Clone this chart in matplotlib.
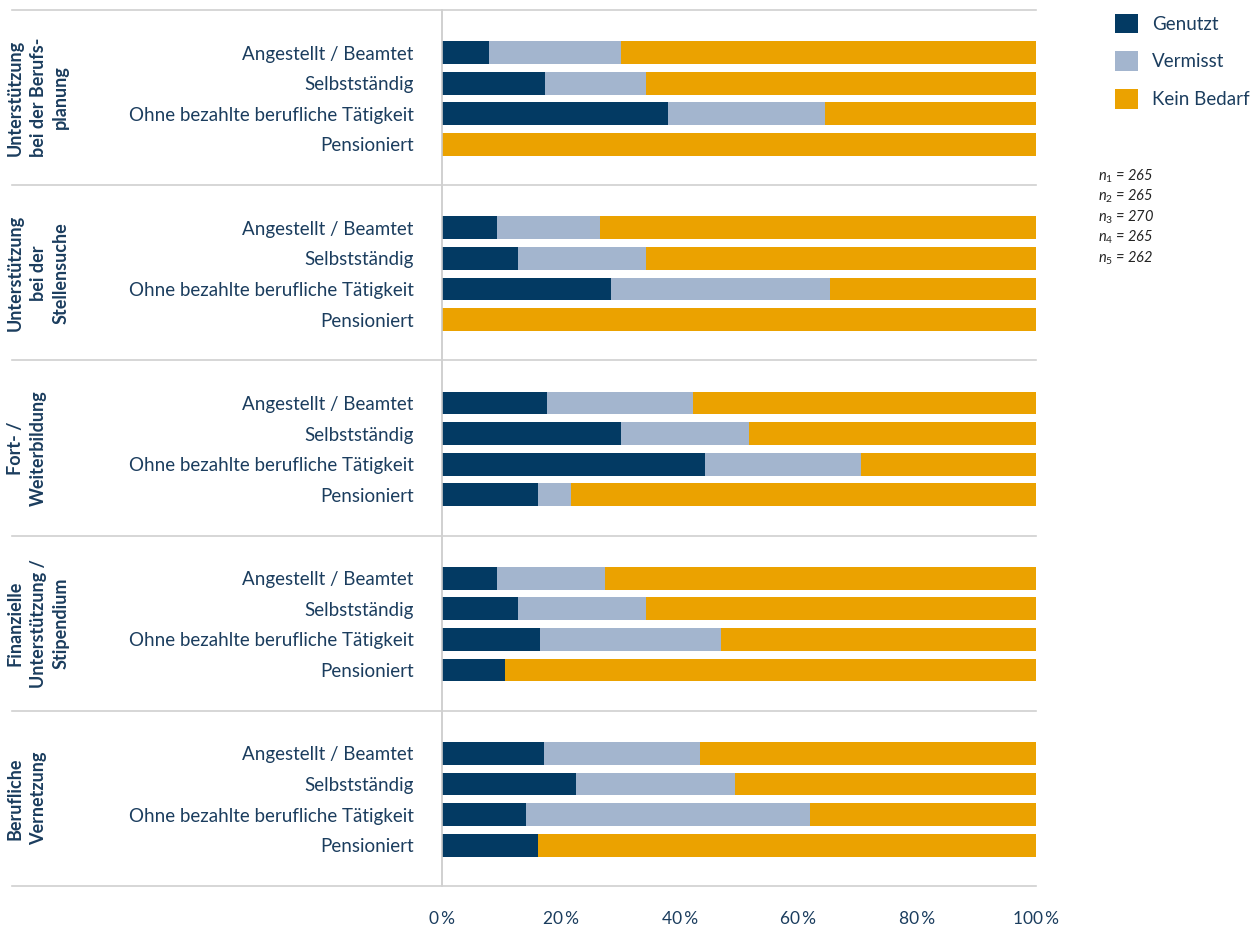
import matplotlib
matplotlib.use("Agg")
import matplotlib.pyplot as plt
from matplotlib.lines import Line2D
import numpy as np

# ---- data ----
groups = ["Unterstützung\nbei der Berufs-\nplanung",
          "Unterstützung\nbei der\nStellensuche",
          "Fort- /\nWeiterbildung",
          "Finanzielle\nUnterstützung /\nStipendium",
          "Berufliche\nVernetzung"]
categories = ["Angestellt / Beamtet", "Selbstständig",
              "Ohne bezahlte berufliche Tätigkeit", "Pensioniert"]
genutzt = [[7.9, 17.3, 38.0, 0.0],
           [9.3, 12.8, 28.5, 0.0],
           [17.7, 30.2, 44.2, 16.1],
           [9.3, 12.8, 16.5, 10.6],
           [17.2, 22.5, 14.1, 16.1]]
vermisst = [[22.2, 17.1, 26.4, 0.0],
            [17.3, 21.6, 36.9, 0.0],
            [24.5, 21.5, 26.4, 5.6],
            [18.2, 21.6, 30.5, 0.0],
            [26.2, 26.9, 47.9, 0.0]]
kein_bedarf = [[69.9, 65.6, 35.6, 100.0],
               [73.4, 65.6, 34.6, 100.0],
               [57.8, 48.3, 29.4, 78.3],
               [72.5, 65.6, 53.0, 89.4],
               [56.6, 50.6, 38.0, 83.9]]
series_names = ["Genutzt", "Vermisst", "Kein Bedarf"]
n_labels = ["1", "2", "3", "4", "5"]
n_values = [265, 265, 270, 265, 262]
xticks = [0, 20, 40, 60, 80, 100]

# ---- style ----
C_DARK = "#033a63"
C_GREY = "#a3b5ce"
C_ORANGE = "#eba200"
TXT = "#1b3d5e"
LINE = "#d0d0d0"
FONT = ["Lato", "DejaVu Sans"]

plt.rcParams["font.family"] = FONT
plt.rcParams["mathtext.fontset"] = "custom"
plt.rcParams["mathtext.it"] = "Lato:italic"
plt.rcParams["mathtext.rm"] = "Lato"

W, H = 1253, 927
fig = plt.figure(figsize=(W / 100, H / 100), dpi=100)
ax = fig.add_axes([442 / W, 1 - 886 / H, (1036 - 442) / W, (886 - 10) / H])

G = 5.725
margin = (G - 3) / 2
bar_h = 0.74

ypos, ylabels = [], []
for g in range(len(groups)):
    y = [g * G + margin + r + 0.03 for r in range(len(categories))]
    g1 = np.array(genutzt[g]); v = np.array(vermisst[g]); k = np.array(kein_bedarf[g])
    ax.barh(y, g1, height=bar_h, color=C_DARK, label=series_names[0] if g == 0 else None)
    ax.barh(y, v, left=g1, height=bar_h, color=C_GREY, label=series_names[1] if g == 0 else None)
    ax.barh(y, k, left=g1 + v, height=bar_h, color=C_ORANGE, label=series_names[2] if g == 0 else None)
    ypos += y
    ylabels += categories

ax.set_xlim(0, 100)
ax.set_ylim(len(groups) * G, 0)
ax.set_yticks(ypos, ylabels)
ax.set_xticks(xticks, [f"{t}\u2009%" for t in xticks])
ax.tick_params(axis="y", length=0, pad=20.5, labelsize=13.5, labelcolor=TXT)
ax.tick_params(axis="x", length=0, pad=18, labelsize=12.5, labelcolor=TXT)
for s in ["top", "right", "bottom"]:
    ax.spines[s].set_visible(False)
ax.spines["left"].set_color("#c8c8c8")
ax.spines["left"].set_linewidth(1.2)

# group separators
for g in range(len(groups) + 1):
    yf = 1 - (10 + g * (876 / len(groups))) / H
    fig.add_artist(Line2D([12 / W, 1036 / W], [yf, yf], color=LINE, lw=1.2))

# group labels
for g, name in enumerate(groups):
    yc = 1 - (10 + (g + 0.5) * (876 / len(groups))) / H
    fig.text(7 / W, yc, name, rotation=90, ha="left", va="center",
             multialignment="center", fontsize=13, fontweight="bold",
             color=TXT, linespacing=1.4)

# legend
fig.legend(loc="upper left", bbox_to_anchor=(1107 / W, 1 - 6 / H), frameon=False,
           fontsize=13.5, labelcolor=TXT, handlelength=1.25, handleheight=1.25,
           labelspacing=0.95, handletextpad=0.75, borderaxespad=0)

# n labels
for i, (lab, val) in enumerate(zip(n_labels, n_values)):
    fig.text(1098 / W, 1 - (176 + i * 20.5) / H, rf"$n_{{{lab}}}$ = {val}",
             fontsize=10.5, style="italic", color="#222222", ha="left", va="center")

fig.savefig("out.png", dpi=100)
